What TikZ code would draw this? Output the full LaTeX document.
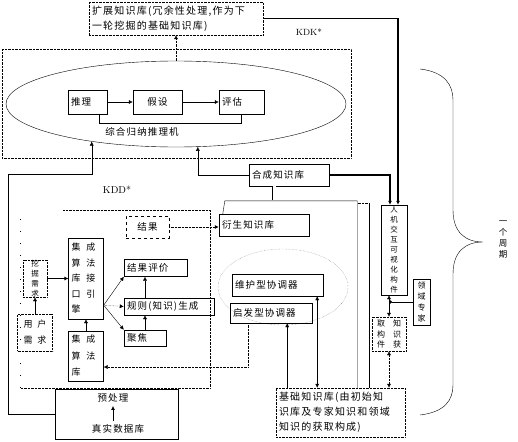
\documentclass[tikz,border=0pt]{standalone}
\usepackage{fontspec}
\newfontfamily\cjk[LetterSpace=12]{Noto Sans CJK SC}
\usetikzlibrary{positioning,calc,arrows.meta,shapes.geometric}
\tikzset{
  kbox/.style  = {rectangle, draw, inner xsep=3pt, inner ysep=0pt, align=left, font=\cjk\fontsize{9.5}{13}\selectfont},
  dbox/.style  = {kbox, densely dotted},
  vbox/.style  = {rectangle, draw, inner sep=0pt, align=center, font=\cjk\fontsize{7.5}{10}\selectfont},
  lbl/.style   = {font=\cjk\fontsize{9.5}{12}\selectfont},
  link/.style  = {thin, -{Latex[length=4pt,width=4pt]}},
  blink/.style = {thin, {Latex[length=4pt,width=4pt]}-{Latex[length=4pt,width=4pt]}},
  frame/.style = {densely dotted}
}

\begin{document}
\begin{tikzpicture}[x=1pt, y=-1pt]
  \useasboundingbox (0,0) rectangle (518,441);

  % KDK* part
  \node[dbox, text width=168pt, minimum height=33pt, font=\cjk\fontsize{10}{15}\selectfont] (ext) at (176,18.5)
    {扩展知识库(冗余性处理,作为下\\一轮挖掘的基础知识库)};
  \node[font=\fontsize{9}{10}\selectfont] (kdk) at (309,32) {KDK*};
  \draw[frame] (2,49) rectangle (351,158);
  \node[draw, ellipse, minimum width=340pt, minimum height=86pt, inner sep=0pt] (eng) at (176,104) {};
  \node[kbox, text width=33pt, minimum height=24pt] (tl)  at (87.5,102)  {推理};
  \node[kbox, minimum width=49pt, minimum height=24pt] (jia) at (157.5,102) {假设};
  \node[kbox, text width=39pt, minimum height=24pt] (pg)  at (241.5,102) {评估};
  \node[lbl] (zh_lbl) at (142,132) {综合归纳推理机};
  \draw[link] (tl) -- (jia);
  \draw[link] (jia) -- (pg);
  \draw ($(tl.south east)+(-8,0)$) -- ++(0,9) -| (pg.south);
  \draw[link, densely dotted] (eng.north) -- (ext.south);

  \node[kbox, text width=74pt, minimum height=22pt] (hc) at (289,175) {合成知识库};
  \node[kbox, text width=84pt, minimum height=22pt] (ys) at (264,225) {衍生知识库};

  % KDD* part
  \node[font=\fontsize{10}{12}\selectfont] (kdd) at (117,190) {KDD*};
  \draw[frame] (63,210) -- (210,210) -- (210,388) -- (20,388);
  \draw[dash pattern=on 1pt off 11pt] (20,388) -- (20,212);
  \node[kbox, dashed, minimum width=43pt, minimum height=22pt] (jg) at (147.5,227) {结果};
  \node[vbox, densely dotted, minimum width=24pt, minimum height=37pt] (wj) at (35,278.5) {挖\\掘\\需\\求};
  \node[dbox, minimum width=35pt, minimum height=37pt, font=\cjk\fontsize{9}{16}\selectfont] (yh) at (35,332.5) {用\hspace{5pt}户\\需\hspace{5pt}求};
  \node[kbox, text width=29pt, minimum height=81pt, font=\cjk\fontsize{9}{15.5}\selectfont] (yq) at (86,278.5)
    {集\hspace{6pt}成\\算\hspace{6pt}法\\库\hspace{6pt}接\\口\hspace{6pt}引\\擎};
  \node[kbox, text width=29pt, minimum height=50pt, font=\cjk\fontsize{9}{16.5}\selectfont] (sfk) at (86,356)
    {集\hspace{6pt}成\\算\hspace{6pt}法\\库};
  \node[kbox, text width=57pt, minimum height=17pt] (pj) at (155.5,268)  {结果评价};
  \node[kbox, text width=84pt, minimum height=17pt] (gz) at (169,306.5)  {规则(知识)生成};
  \node[kbox, text width=36pt, minimum height=16pt] (jj) at (145,338)    {聚焦};

  \node[kbox, minimum width=123pt, minimum height=50pt] (pre) at (116.5,414) {};
  \node[lbl] (yc) at (113,398) {预处理};
  \node[lbl] (zs) at (118,429) {真实数据库};
  \draw[link, line width=0.9pt] (zs.north -| yc.south) -- (yc.south);

  \draw[link] (yh.north) -- (wj.south);
  \draw[link] (wj.east) -- (wj.east -| yq.west);
  \draw[link] (sfk.north) -- (yq.south);
  \coordinate (yk) at ($(yq.south east)+(0,-14)$);
  \draw[link] (yk) -- (pj.south west);
  \draw[link, densely dotted] (yk) -- (gz.west);
  \draw[link] (yk) -- (jj.north west);
  \draw[link] (gz.north -| jj.north) -- (pj.south -| jj.north);
  \draw[link] (jj.north) -- (gz.south -| jj.north);
  \draw[link, densely dotted, thick] (jg.east) -- (jg.east -| ys.west);

  % coordinators
  \draw[gray, densely dotted] (283,287) ellipse [x radius=65pt, y radius=38pt];
  \node[kbox, text width=85pt, minimum height=22pt] (whx) at (277.5,285) {维护型协调器};
  \node[kbox, text width=76pt, minimum height=20pt] (qfx) at (271,313)   {启发型协调器};
  \node[dbox, text width=123pt, minimum height=49pt, font=\cjk\fontsize{10}{15}\selectfont] (jc) at (340.5,412.5)
    {基础知识库(由初始知\\识库及专家知识和领域\\知识的获取构成)};

  \coordinate (q1) at ($(qfx.south east)+(-25,0)$);
  \draw[link] (q1 |- jc.north) -- (q1);
  \coordinate (w1) at ($(whx.south east)+(-6,0)$);
  \draw[blink] (w1 |- jc.north) -- (w1);
  \coordinate (q2) at ($(qfx.south west)+(18,0)$);
  \draw[link, densely dotted] (q2) |- ($(sfk.east)+(0,11)$);

  % base knowledge back to derived / composed knowledge
  \coordinate (f1) at ($(jc.north east)+(-48,0)$);
  \coordinate (f2) at ($(jc.north east)+(-36,0)$);
  \draw (f1) |- ($(ys.north west)+(6,-13)$) -- ($(ys.north west)+(4,0)$);
  \draw (f2) -- ++(0,-185) coordinate (f3);
  \draw[frame] (f3) -- (f1 |- f3);
  \draw[double, double distance=3pt] ($(hc.south)+(-15,14)$) -- ($(hc.south)+(-15,0)$);

  % loops into the inference engine
  \draw[link] (pre.west) -- ++(-47,0) |- ($(eng.204)+(0,33)$) -- (eng.204);
  \draw[link] (hc.west) -| (eng.297);

  % right side
  \node[vbox, minimum width=26pt, minimum height=90pt] (rj) at (394,250) {人\\机\\交\\互\\可\\视\\化\\构\\件};
  \node[vbox, minimum width=17pt, minimum height=46pt, font=\cjk\fontsize{8}{11}\selectfont] (lz) at (421.5,302) {领\\域\\专\\家};
  \node[vbox, densely dotted, minimum width=34pt, minimum height=34pt, font=\cjk\fontsize{8}{10.5}\selectfont] (zh) at (389,334)
    {取\hspace{8pt}知\\构\hspace{8pt}识\\件\hspace{8pt}获};
  \coordinate (r1) at ($(rj.north)+(-4,0)$);
  \coordinate (r2) at ($(rj.north)+(4,0)$);
  \draw[link, line width=1.2pt] (hc.east) -| (r1);
  \draw[link, line width=1.6pt] (ext.east) -| (r2);
  \draw[blink] (zh.north) -- (zh.north |- rj.south);
  \draw[-{Circle[length=3pt]}] (lz.west) -- (lz.west -| zh.north);
  \draw[blink, densely dotted] (zh.south) -- (zh.south |- jc.north);

  % brace
  \draw (420,69) .. controls (445,72) and (453,85) .. (453,100) -- (453,210)
        .. controls (453,232) and (465,242) .. (483,242)
        .. controls (465,242) and (453,252) .. (453,274) -- (453,385)
        .. controls (453,400) and (445,412) .. (420,415);
  \node[vbox, draw=none, font=\cjk\fontsize{8.5}{11}\selectfont] (zq) at (503,240) {一\\个\\周\\期};
\end{tikzpicture}
\end{document}
